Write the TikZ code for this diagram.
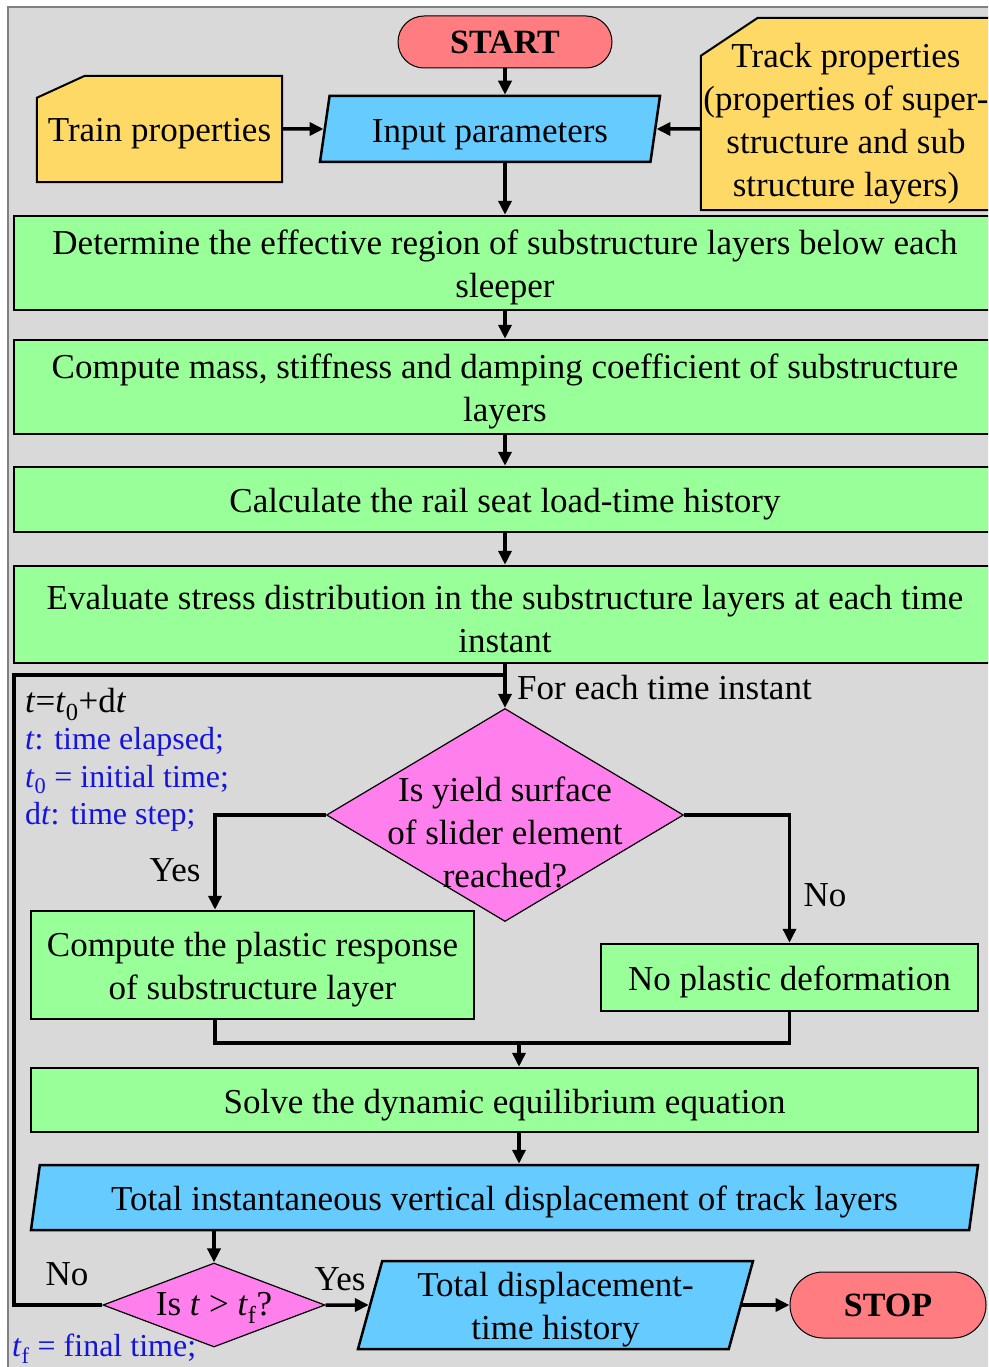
\documentclass[tikz,border=0pt]{standalone}
\usepackage{fontspec}
\setmainfont{Liberation Serif}
\usepackage{tikz}
\usetikzlibrary{arrows.meta,shapes.geometric}
\definecolor{bggray}{RGB}{217,217,217}
\definecolor{termred}{RGB}{255,124,128}
\definecolor{ioblue}{RGB}{102,204,255}
\definecolor{cardyellow}{RGB}{255,217,102}
\definecolor{boxgreen}{RGB}{153,255,153}
\definecolor{decpink}{RGB}{255,128,236}
\definecolor{noteblue}{RGB}{20,20,220}
\newcommand{\liftline}{\rule{0pt}{34pt}}

\begin{document}
\begin{tikzpicture}[x=1pt, y=-1pt, >={Triangle[length=14pt,width=13pt]},
  every node/.style={font=\fontsize{35}{43}\selectfont},
  greenbox/.style={draw, line width=2.5pt, fill=boxgreen, align=center, inner sep=0pt},
  datain/.style={trapezium, trapezium stretches body, draw, line width=2.5pt, fill=ioblue, align=center, inner sep=0pt},
  cardframe/.style={rectangle, inner sep=0pt},
  cardline/.style={draw, line width=2pt, fill=cardyellow},
  terminal/.style={rectangle, rounded corners=26pt, draw, line width=1pt, fill=termred, font=\fontsize{34}{40}\selectfont\bfseries, inner sep=0pt},
  decision/.style={diamond, draw, line width=1.2pt, fill=decpink, inner sep=0pt},
  note/.style={text=noteblue, font=\fontsize{32}{37.5}\selectfont, inner sep=0pt},
  flow/.style={->, line width=3.5pt},
  joint/.style={line width=3.5pt}]
  \useasboundingbox (0,0) rectangle (988,1367);
  \clip (0,0) rectangle (988,1367);
  \fill[bggray] (8,7) rectangle (1000,1380);
  \draw[gray, line width=1.5pt] (8,7) rectangle (1000,1380);

  \node[terminal, minimum width=214pt, minimum height=52pt] (start) at (505,42) {START};
  \node[datain, trapezium left angle=77, trapezium right angle=103, minimum width=340pt, minimum height=66pt] (inp) at (490,129) {\liftline Input parameters};
  \node[cardframe, minimum width=245pt, minimum height=106pt] (train) at (159.5,129) {};
  \path[cardline] ([yshift=-22pt]train.north west) -- ([xshift=48pt]train.north west) -- (train.north east) -- (train.south east) -- (train.south west) -- cycle;
  \node (traintxt) at (159.5,134) {Train properties};
  \node[cardframe, minimum width=294pt, minimum height=192pt] (track) at (848,114) {};
  \path[cardline] ([yshift=-38pt]track.north west) -- ([xshift=57pt]track.north west) -- (track.north east) -- (track.south east) -- (track.south west) -- cycle;
  \node[align=center] (tracktxt) at (846,124) {Track properties\\(properties of super-\\structure and sub\\structure layers)};
  \coordinate (spine) at (505,0);

  \node[greenbox, minimum width=982pt, minimum height=94pt] (det) at (505,263) {\liftline Determine the effective region of substructure layers below each\\sleeper};
  \node[greenbox, minimum width=982pt, minimum height=94pt] (mass) at (505,387) {\liftline Compute mass, stiffness and damping coefficient of substructure\\layers};
  \node[greenbox, minimum width=982pt, minimum height=65pt] (rail) at (505,499.5) {\liftline Calculate the rail seat load-time history};
  \node[greenbox, minimum width=982pt, minimum height=97pt] (stress) at (505,614.5) {\liftline Evaluate stress distribution in the substructure layers at each time\\instant};

  \node[decision, minimum width=357pt, minimum height=213pt] (yield) at (505,815) {};
  \node[align=center] (yieldtxt) at (505,832) {Is yield surface\\of slider element\\reached?};
  \node[greenbox, minimum width=443pt, minimum height=108pt] (plastic) at (252.5,965) {\liftline Compute the plastic response\\of substructure layer};
  \node[greenbox, minimum width=377pt, minimum height=67pt] (noplastic) at (789.5,977.5) {\liftline No plastic deformation};
  \node[greenbox, minimum width=947pt, minimum height=64pt] (solve) at (504.5,1100) {\liftline Solve the dynamic equilibrium equation};
  \node[datain, trapezium left angle=78, trapezium right angle=102, minimum width=947pt, minimum height=65pt] (total) at (504.5,1197.5) {\liftline Total instantaneous vertical displacement of track layers};
  \node[decision, minimum width=222pt, minimum height=84pt] (tcheck) at (214,1305) {};
  \node (tchecktxt) at (214,1308) {Is \textit{t} > \textit{t}\textsubscript{f}?};
  \node[datain, trapezium left angle=74, trapezium right angle=106, minimum width=395pt, minimum height=88pt] (disp) at (555.5,1305) {\liftline Total displacement-\\time history};
  \node[terminal, minimum width=196pt, minimum height=66pt, rounded corners=33pt] (stop) at (888,1305) {STOP};

  \node[anchor=west, inner sep=0pt] (each) at (517,688) {For each time instant};
  \node (yes1) at (175,870) {Yes};
  \node (no1) at (825,895) {No};
  \node (no2) at (67,1274) {No};
  \node (yes2) at (340,1279) {Yes};
  \node[note, anchor=north west, align=left] (notes) at (25,688) {\textcolor{black}{\fontsize{35}{37.5}\selectfont\textit{t}=\textit{t}\textsubscript{0}+d\textit{t}}\\\textit{t}: time elapsed;\\\textit{t}\textsubscript{0} = initial time;\\d\textit{t}: time step;};
  \node[note, anchor=base west] (final) at (12,1356) {\textit{t}\textsubscript{f} = final time;};

  \draw[flow] (start) -- (spine |- inp.north);
  \draw[flow] (train) -- (inp);
  \draw[flow] (track.west |- inp) -- (inp);
  \draw[flow] (spine |- inp.south) -- (det);
  \draw[flow] (det) -- (mass);
  \draw[flow] (mass) -- (rail);
  \draw[flow] (rail) -- (stress);
  \draw[flow] (stress) -- (yield);
  \draw[flow] (yield.west) -| ([xshift=-37.5pt]plastic.north);
  \draw[flow] (yield.east) -| (noplastic.north);
  \coordinate (merge) at (519,1043);
  \draw[joint] ([xshift=-37.5pt]plastic.south) |- (merge) -| (noplastic.south);
  \draw[flow] (merge) -- (merge |- solve.north);
  \draw[flow] (merge |- solve.south) -- (merge |- total.north);
  \draw[flow] (tcheck |- total.south) -- (tcheck);
  \draw[flow] (tcheck) -- (disp);
  \draw[flow] (disp) -- (stop);
  \coordinate (loop) at (14,675);
  \draw[joint] (tcheck.west) -| (loop) -- (loop -| spine);
\end{tikzpicture}
\end{document}
